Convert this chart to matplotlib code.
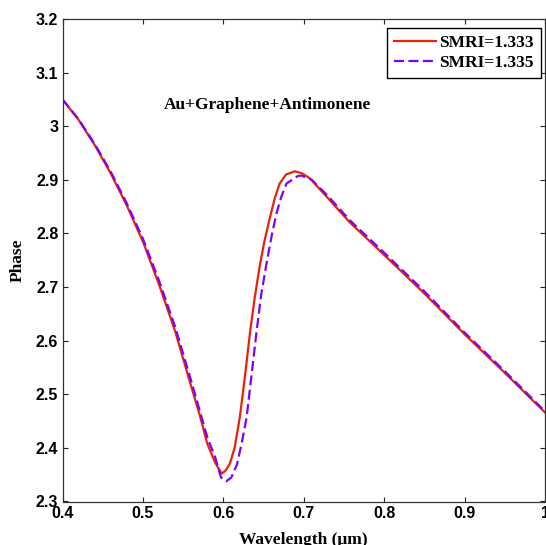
import matplotlib
matplotlib.use("Agg")
import matplotlib.pyplot as plt

# Data
wl_1333 = [0.40, 0.42, 0.44, 0.46, 0.48, 0.50, 0.52, 0.54, 0.56, 0.57, 0.58, 0.59,
           0.598, 0.603, 0.608, 0.614, 0.6205, 0.627, 0.633, 0.639, 0.645, 0.651,
           0.658, 0.664, 0.670, 0.678, 0.689, 0.698, 0.7075, 0.73, 0.757, 0.80,
           0.85, 0.90, 0.95, 1.00]
ph_1333 = [3.050, 3.012, 2.965, 2.912, 2.852, 2.785, 2.705, 2.618, 2.515, 2.465, 2.408, 2.372,
           2.352, 2.358, 2.370, 2.400, 2.457, 2.535, 2.613, 2.680, 2.737, 2.785,
           2.830, 2.866, 2.893, 2.910, 2.916, 2.912, 2.903, 2.866, 2.821, 2.760,
           2.688, 2.612, 2.540, 2.466]

wl_1335 = [0.40, 0.42, 0.44, 0.46, 0.48, 0.50, 0.52, 0.54, 0.56, 0.58, 0.59,
           0.597, 0.604, 0.610, 0.617, 0.623, 0.629, 0.635, 0.641, 0.647, 0.6537,
           0.660, 0.666, 0.672, 0.6785, 0.6925, 0.697, 0.71, 0.73, 0.757, 0.80,
           0.85, 0.90, 0.95, 1.00]
ph_1335 = [3.050, 3.013, 2.967, 2.915, 2.856, 2.790, 2.712, 2.626, 2.525, 2.420, 2.382,
           2.345, 2.338, 2.345, 2.369, 2.410, 2.457, 2.535, 2.613, 2.685, 2.744,
           2.795, 2.837, 2.868, 2.893, 2.907, 2.908, 2.900, 2.870, 2.825, 2.764,
           2.692, 2.615, 2.543, 2.468]

series_labels = ["SMRI=1.333", "SMRI=1.335"]
xticks = [0.4, 0.5, 0.6, 0.7, 0.8, 0.9, 1.0]
xticklabels = ["0.4", "0.5", "0.6", "0.7", "0.8", "0.9", "1"]
yticks = [2.3, 2.4, 2.5, 2.6, 2.7, 2.8, 2.9, 3.0, 3.1, 3.2]
yticklabels = ["2.3", "2.4", "2.5", "2.6", "2.7", "2.8", "2.9", "3", "3.1", "3.2"]

fig = plt.figure(figsize=(5.46, 5.45), dpi=100)
ax = fig.add_axes([62.5/546, (545-501.5)/545, (545-62.5)/546, (501.5-19)/545])

ax.plot(wl_1333, ph_1333, color='#e8220a', lw=1.6, label=series_labels[0])
ax.plot(wl_1335, ph_1335, color='#8000ff', lw=1.6, ls=(0, (4.5, 2.0)), label=series_labels[1])

ax.set_xlim(0.4, 1.0)
ax.set_ylim(2.3, 3.2)
ax.set_xticks(xticks)
ax.set_xticklabels(xticklabels)
ax.set_yticks(yticks)
ax.set_yticklabels(yticklabels)

for lab in ax.get_xticklabels() + ax.get_yticklabels():
    lab.set_fontfamily('Liberation Sans')
    lab.set_fontweight('bold')
    lab.set_fontsize(11.5)

ax.tick_params(direction='in', length=3.6, width=0.8, top=True, right=True,
               colors='#222222', labelcolor='black')
ax.tick_params(axis='x', pad=3)
ax.tick_params(axis='y', pad=3)
for s in ax.spines.values():
    s.set_linewidth(0.9)
    s.set_color('#333333')

serif = dict(family='Liberation Serif', size=12.5, weight='bold')
ax.set_xlabel('Wavelength (μm)', fontdict=serif, labelpad=8)
ax.set_ylabel('Phase', fontdict=serif, labelpad=7)

ax.text(0.5255, 3.04, 'Au+Graphene+Antimonene', fontdict=serif, ha='left', va='center')

leg = ax.legend(loc='upper right', bbox_to_anchor=(0.9917, 0.981), borderaxespad=0,
                prop=dict(family='Liberation Serif', size=12.5, weight='bold'), frameon=True,
                fancybox=False, framealpha=1, edgecolor='black', handlelength=2.4,
                handletextpad=0.2, borderpad=0.4, labelspacing=0.2)
leg.get_frame().set_linewidth(1.0)

fig.savefig('out.png', dpi=100)
